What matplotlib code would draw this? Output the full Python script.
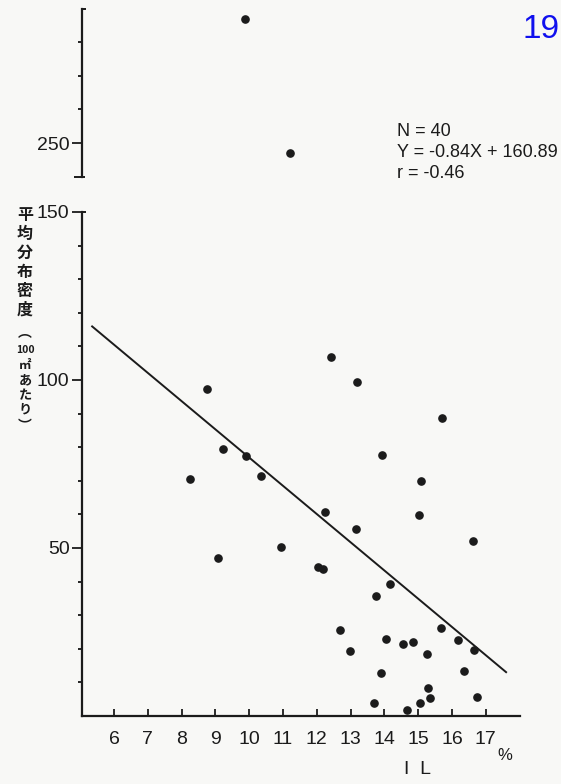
import matplotlib
matplotlib.use("Agg")
import matplotlib.pyplot as plt
import numpy as np

# IL (%) vs mean density (per 100 m2)
il = [8.74, 9.23, 9.91, 8.25, 10.35, 12.41, 13.20, 15.69, 13.94, 15.08,
      12.24, 15.03, 13.16, 16.61, 10.94, 12.04, 12.17, 9.07, 14.15, 13.74,
      12.69, 15.66, 14.05, 14.56, 14.86, 16.19, 12.98, 15.27, 16.65, 13.89,
      16.36, 15.30, 15.35, 16.75, 13.69, 15.05, 14.66, 9.88, 11.21]
density = [97.3, 79.4, 77.5, 70.4, 71.4, 106.8, 99.3, 88.7, 77.6, 69.9,
           60.8, 59.8, 55.7, 52.1, 50.3, 44.3, 43.7, 46.9, 39.3, 35.7,
           25.6, 26.3, 22.8, 21.3, 22.1, 22.6, 19.4, 18.5, 19.6, 12.9,
           13.4, 8.3, 5.3, 5.7, 3.8, 3.9, 1.8, 287.0, 247.0]

# regression Y = a*X + b, X in 0.1 % units
slope = -0.84
intercept = 160.89
fit_range = (5.35, 17.6)

xticks = list(range(6, 18))

W, H = 561, 784
ink = "#1b1b1b"
plt.rcParams["font.family"] = ["Liberation Sans", "DejaVu Sans"]

fig = plt.figure(figsize=(W / 100, H / 100), dpi=100, facecolor="#f8f8f6")

def frac(x0, y0, x1, y1):
    return [x0 / W, 1 - y1 / H, (x1 - x0) / W, (y1 - y0) / H]

ax = fig.add_axes(frac(82, 212, 519.6, 716))
ax_top = fig.add_axes(frac(82, 8.6, 519.6, 176.6), sharex=ax)
for a in (ax, ax_top):
    a.set_facecolor("none")
    for s in ("top", "right"):
        a.spines[s].set_visible(False)
    a.spines["left"].set_linewidth(1.6)
    a.spines["left"].set_color(ink)
ax_top.spines["bottom"].set_visible(False)
ax.spines["bottom"].set_linewidth(1.6)
ax.spines["bottom"].set_color(ink)

ax.set_xlim(5.05, 18.0)
ax.set_ylim(0, 150)
ax_top.set_ylim(240, 290)

x = np.array(il)
y = np.array(density)
low = y <= 150
ax.plot(x[low], y[low], "o", ms=5.2, color=ink, clip_on=False)
ax_top.plot(x[~low], y[~low], "o", ms=5.2, color=ink, clip_on=False)

fx = np.array(fit_range)
ax.plot(fx, slope * fx * 10 + intercept, color=ink, lw=1.4)

ax.set_xticks(xticks)
ax.set_xticklabels([str(t) for t in xticks])
ax.tick_params(axis="x", direction="in", length=5, width=1.3, pad=11,
               labelsize=14, colors=ink)
ax.set_yticks([50, 100, 150])
ax.set_yticks(range(10, 150, 10), minor=True)
ax.tick_params(axis="y", which="major", direction="out", length=7, width=1.3,
               pad=2, labelsize=14, colors=ink)
ax.tick_params(axis="y", which="minor", direction="out", length=3, width=1.2)

ax_top.set_yticks([250])
ax_top.set_yticks([260, 270, 280], minor=True)
ax_top.tick_params(axis="x", bottom=False, labelbottom=False)
ax_top.tick_params(axis="y", which="major", direction="out", length=7, width=1.3,
                   pad=2, labelsize=14, colors=ink)
ax_top.tick_params(axis="y", which="minor", direction="out", length=3, width=1.2)

# caps at the break of the y axis
cap = dict(color=ink, lw=1.4, clip_on=False, solid_capstyle="butt")
ax_top.plot([0, 0.008], [1, 1], transform=ax_top.transAxes, **cap)
ax_top.plot([-0.018, 0.006], [0, 0], transform=ax_top.transAxes, **cap)
ax.plot([0, 0.008], [1.0, 1.0], transform=ax.transAxes, **cap)

# statistics
stats = ["N = 40", "Y = -0.84X + 160.89", "r = -0.46"]
for i, line in enumerate(stats):
    fig.text(397 / W, 1 - (132 + 20.5 * i) / H, line, fontsize=13, color=ink,
             va="center", ha="left")

# axis titles
fig.text(418 / W, 1 - 770 / H, "I  L", fontsize=14, color=ink, ha="center", va="center")
fig.text(505 / W, 1 - 755 / H, "%", fontsize=12, color=ink, ha="center", va="center")

ylabel = [("平", 215, 11.5), ("均", 234, 11.5), ("分", 253, 11.5),
          ("布", 272, 11.5), ("密", 291, 11.5), ("度", 310, 11.5),
          ("︵", 333, 10), ("100", 350, 7.5), ("㎡", 365, 9),
          ("あ", 380, 9.5), ("た", 395, 9.5), ("り", 410, 9.5), ("︶", 426, 10)]
for ch, py, size in ylabel:
    fig.text(25 / W, 1 - py / H, ch, fontsize=size, color=ink, ha="center",
             va="center", fontweight="bold",
             family=["Noto Sans CJK JP", "DejaVu Sans"])

fig.text(560 / W, 1 - 30 / H, "19", fontsize=24, color="#1010ee",
         ha="right", va="center", family=["Liberation Sans", "DejaVu Sans"])

fig.savefig("out.png", dpi=100, facecolor=fig.get_facecolor())
